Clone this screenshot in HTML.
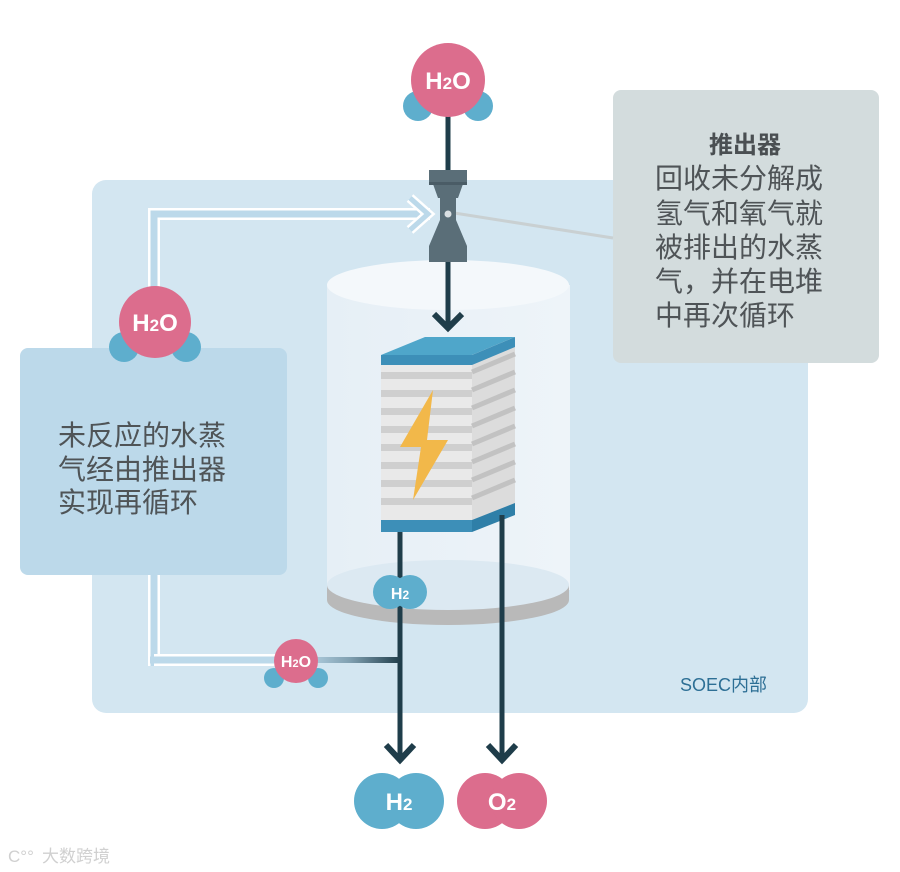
<!DOCTYPE html>
<html><head><meta charset="utf-8"><style>
html,body{margin:0;padding:0;background:#fff;}
svg{display:block;}
text{font-family:"Liberation Sans","Noto Sans CJK SC",sans-serif;}
</style></head><body>
<svg width="900" height="872" viewBox="0 0 900 872" xmlns="http://www.w3.org/2000/svg">
<defs>
<linearGradient id="pg" x1="0" x2="1" y1="0" y2="0">
<stop offset="0" stop-color="#bcd9ea"/><stop offset="0.5" stop-color="#7f9fb0"/><stop offset="1" stop-color="#1f3d4a"/>
</linearGradient>
<linearGradient id="cyl" x1="0" x2="1">
<stop offset="0" stop-color="#e6eff6"/><stop offset="1" stop-color="#eef4f9"/>
</linearGradient>
</defs>
<!-- main panel -->
<rect x="92" y="180" width="716" height="533" rx="14" fill="#d3e6f1"/>
<!-- right callout -->
<rect x="613" y="90" width="266" height="273" rx="8" fill="#d3dcdd"/>
<line x1="448" y1="212" x2="613" y2="238" stroke="#c9d0d2" stroke-width="3"/>
<text x="745" y="153" font-size="24" font-weight="bold" fill="#4a4f52" text-anchor="middle">推出器</text>
<g font-size="28" fill="#4f5457">
<text x="655" y="188">回收未分解成</text>
<text x="655" y="223">氢气和氧气就</text>
<text x="655" y="257">被排出的水蒸</text>
<text x="655" y="291">气，并在电堆</text>
<text x="655" y="325">中再次循环</text>
</g>
<!-- pipe loop -->
<path d="M154 666 V214 H430" fill="none" stroke="#fff" stroke-width="12"/>
<path d="M154 666 V214 H430" fill="none" stroke="#bcd9ea" stroke-width="7"/>
<path d="M154 660 H290" fill="none" stroke="#fff" stroke-width="12"/>
<path d="M150 660 H290" fill="none" stroke="#bcd9ea" stroke-width="7"/>
<path d="M410 198 L428 214 L410 230" fill="none" stroke="#fff" stroke-width="10" stroke-linejoin="miter"/>
<path d="M410 198 L428 214 L410 230" fill="none" stroke="#bcd9ea" stroke-width="5"/>
<!-- cylinder -->
<rect x="327" y="285" width="243" height="305" fill="url(#cyl)"/>
<ellipse cx="448" cy="285" rx="121" ry="25" fill="#f4f8fb"/>
<path d="M327 585 V600 A121 25 0 0 0 569 600 V585 Z" fill="#b9b9b9"/>
<ellipse cx="448" cy="585" rx="121" ry="25" fill="#dce9f2"/>
<!-- vertical inflow -->
<line x1="448" y1="110" x2="448" y2="328" stroke="#1f3d4a" stroke-width="5"/>
<path d="M434 314 L448 328 L462 314" fill="none" stroke="#1f3d4a" stroke-width="6"/>
<!-- ejector -->
<rect x="429" y="170" width="38" height="14" fill="#5a6e78"/>
<path d="M433 184 H463 L458 198 H438 Z" fill="#5a6e78"/>
<rect x="440" y="198" width="16" height="22" fill="#5a6e78"/>
<path d="M440 220 H456 L467 246 H429 Z" fill="#5a6e78"/>
<rect x="429" y="246" width="38" height="16" fill="#5a6e78"/>
<rect x="429" y="182" width="38" height="3" fill="#4a5c66"/>
<circle cx="448" cy="214" r="3.5" fill="#d9dfe2"/>
<!-- stack -->
<path d="M381 355 L425 337 H515 L472 355 Z" fill="#4fa6ca"/>
<rect x="381" y="355" width="91" height="10" fill="#3d8fb8"/>
<rect x="381" y="365" width="91" height="155" fill="#e9e9e9"/>
<g fill="#cfcfcf">
<rect x="381" y="372" width="91" height="7"/><rect x="381" y="390" width="91" height="7"/>
<rect x="381" y="408" width="91" height="7"/><rect x="381" y="426" width="91" height="7"/>
<rect x="381" y="444" width="91" height="7"/><rect x="381" y="462" width="91" height="7"/>
<rect x="381" y="480" width="91" height="7"/><rect x="381" y="498" width="91" height="7"/>
</g>
<path d="M472 355 L515 337 V515 L472 532 Z" fill="#dcdcdc"/>
<g stroke="#c2c2c2" stroke-width="5">
<line x1="472" y1="372" x2="515" y2="354"/><line x1="472" y1="390" x2="515" y2="372"/>
<line x1="472" y1="408" x2="515" y2="390"/><line x1="472" y1="426" x2="515" y2="408"/>
<line x1="472" y1="444" x2="515" y2="426"/><line x1="472" y1="462" x2="515" y2="444"/>
<line x1="472" y1="480" x2="515" y2="462"/><line x1="472" y1="498" x2="515" y2="480"/>
</g>
<path d="M472 355 L515 337 V347 L472 365 Z" fill="#3d8fb8"/>
<rect x="381" y="520" width="91" height="12" fill="#3d8fb8"/>
<path d="M472 520 L515 503 V515 L472 532 Z" fill="#2f7fa8"/>
<path d="M433 390 L400 447 H421 L413 500 L448 440 H427 Z" fill="#f2b84a"/>
<!-- down lines -->
<line x1="400" y1="532" x2="400" y2="760" stroke="#1f3d4a" stroke-width="5"/>
<line x1="502" y1="515" x2="502" y2="760" stroke="#1f3d4a" stroke-width="5"/>
<path d="M386 745 L400 760 L414 745" fill="none" stroke="#1f3d4a" stroke-width="6"/>
<path d="M488 745 L502 760 L516 745" fill="none" stroke="#1f3d4a" stroke-width="6"/>
<!-- horizontal recirc -->
<rect x="300" y="657" width="101" height="6" fill="url(#pg)"/>
<!-- left box -->
<rect x="20" y="348" width="267" height="227" rx="8" fill="#bcd9ea"/>
<g font-size="28" fill="#4f5457">
<text x="58" y="445">未反应的水蒸</text>
<text x="58" y="479">气经由推出器</text>
<text x="58" y="512">实现再循环</text>
</g>
<!-- molecules -->
<g font-weight="bold" fill="#fff" text-anchor="middle">
<circle cx="418" cy="106" r="15" fill="#5eaecd"/><circle cx="478" cy="106" r="15" fill="#5eaecd"/>
<circle cx="448" cy="80" r="37" fill="#dc6d8d"/>
<text x="448" y="89" font-size="24">H<tspan font-size="17">2</tspan>O</text>

<circle cx="124" cy="347" r="15" fill="#5eaecd"/><circle cx="186" cy="347" r="15" fill="#5eaecd"/>
<circle cx="155" cy="322" r="36" fill="#dc6d8d"/>
<text x="155" y="331" font-size="24">H<tspan font-size="17">2</tspan>O</text>

<circle cx="390" cy="592" r="17" fill="#5eaecd"/><circle cx="410" cy="592" r="17" fill="#5eaecd"/>
<text x="400" y="599" font-size="16">H<tspan font-size="12">2</tspan></text>

<circle cx="274" cy="678" r="10" fill="#5eaecd"/><circle cx="318" cy="678" r="10" fill="#5eaecd"/>
<circle cx="296" cy="661" r="22" fill="#dc6d8d"/>
<text x="296" y="667" font-size="16">H<tspan font-size="11">2</tspan>O</text>

<circle cx="382" cy="801" r="28" fill="#5eaecd"/><circle cx="416" cy="801" r="28" fill="#5eaecd"/>
<text x="399" y="810" font-size="24">H<tspan font-size="17">2</tspan></text>
<circle cx="485" cy="801" r="28" fill="#dc6d8d"/><circle cx="519" cy="801" r="28" fill="#dc6d8d"/>
<text x="502" y="810" font-size="24">O<tspan font-size="17">2</tspan></text>
</g>
<text x="680" y="691" font-size="18" fill="#2d6f95">SOEC内部</text>
<text x="42" y="862" font-size="17" fill="#d0d0d0">大数跨境</text>
<text x="8" y="862" font-size="17" fill="#d0d0d0">C°°</text>
</svg>
</body></html>
